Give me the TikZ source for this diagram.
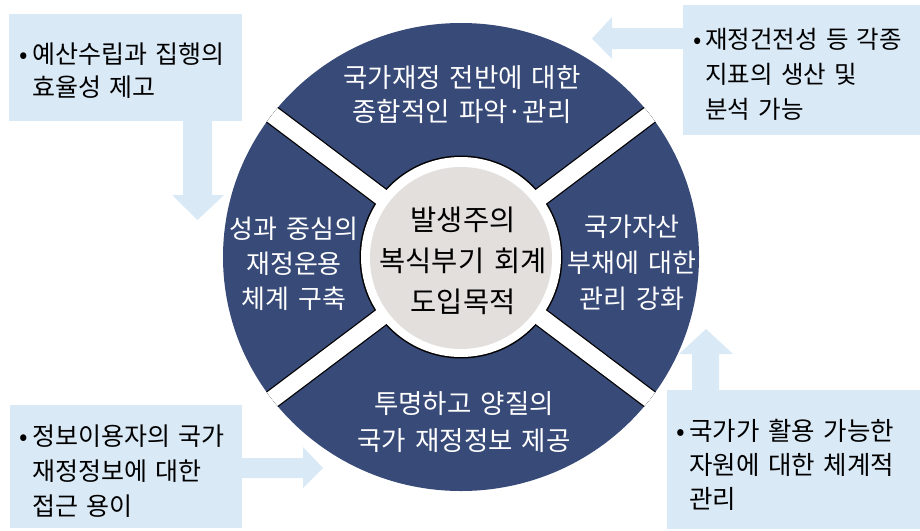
\documentclass[tikz,border=0pt]{standalone}
\usepackage{fontspec}
\setmainfont[WordSpace=1.5]{Noto Sans CJK KR}
\definecolor{navy}{HTML}{384A77}
\definecolor{lblue}{HTML}{DAE9F6}
\definecolor{cgray}{HTML}{E2DFDC}
\newcommand\mybul{\llap{\makebox[16pt][c]{•}}}
\begin{document}
\begin{tikzpicture}[x=1pt,y=-1pt,
  infobox/.style={fill=lblue, draw=none, anchor=north west, inner sep=0pt, outer sep=0pt},
  infotext/.style={anchor=base west, align=left, inner sep=0pt, text=black},
  quadtext/.style={anchor=base, align=center, inner sep=0pt, text=white},
  fatarrow/.style={fill=lblue, draw=none}]
\useasboundingbox (0,0) rectangle (920,530);

% ---- big circle ----
\fill[navy] (461,257) ellipse [x radius=238, y radius=234];
\begin{scope}
  \clip (461,257) ellipse [x radius=238, y radius=234];
  \foreach \a in {37,143,217,323} \draw[black, line width=19.5pt] (461,257) -- ++(\a:260);
  \fill[black] (461,257) circle [radius=101.5];
  \foreach \a in {37,143,217,323} \draw[white, line width=17pt] (461,257) -- ++(\a:260);
  \fill[white] (461,257) circle [radius=100];
\end{scope}
\node[circle, fill=cgray, minimum size=182pt, inner sep=0pt] (core) at (461,258) {};
\node[anchor=base, align=center, inner sep=0pt, font=\fontsize{28.5}{41}\selectfont] (coretext) at (463,312) {발생주의\\복식부기 회계\\도입목적};

% ---- quadrant texts ----
\node[quadtext, font=\fontsize{26.5}{34}\selectfont] (qtop) at (462,121) {국가재정 전반에 대한\\종합적인 파악·관리};
\node[quadtext, font=\fontsize{26}{35}\selectfont] (qleft) at (294,308) {성과 중심의\\재정운용\\체계 구축};
\node[quadtext, font=\fontsize{26}{36}\selectfont] (qright) at (632,308) {국가자산\\부채에 대한\\관리 강화};
\node[quadtext, font=\fontsize{26.5}{37}\selectfont] (qbottom) at (464,450) {투명하고 양질의\\국가 재정정보 제공};

% ---- info boxes ----
\node[infobox, minimum width=233pt, minimum height=107pt] (tlbox) at (9,14) {};
\node[infobox, minimum width=237pt, minimum height=130pt] (trbox) at (683,5) {};
\node[infobox, minimum width=232pt, minimum height=123pt] (blbox) at (10,405) {};
\node[infobox, minimum width=253pt, minimum height=139pt] (brbox) at (667,390) {};

% ---- block arrows ----
\fill[fatarrow] (tlbox.south -| 183,0) -- (183,195) -- (172,195) -- (197.5,220) -- (224,195) -- (212,195) -- (tlbox.south -| 212,0) -- cycle;
\fill[fatarrow] (trbox.west |- 0,28) -- (612,28) -- (612,17) -- (592,38.5) -- (612,59) -- (612,49) -- (trbox.west |- 0,49) -- cycle;
\fill[fatarrow] (blbox.east |- 0,458) -- (303,458) -- (303,447) -- (323,468) -- (303,488) -- (303,478) -- (blbox.east |- 0,478) -- cycle;
\fill[fatarrow] (brbox.north -| 692,0) -- (692,354) -- (679,354) -- (706,329) -- (733,354) -- (719,354) -- (brbox.north -| 719,0) -- cycle;

% ---- info texts ----
\node[infotext, font=\fontsize{25}{33}\selectfont] (tlt) at (32,96) {\mybul 예산수립과 집행의\\효율성 제고};
\node[infotext, font=\fontsize{24.5}{35}\selectfont] (trt) at (705,118) {\mybul 재정건전성 등 각종\\지표의 생산 및\\분석 가능};
\node[infotext, font=\fontsize{25}{35}\selectfont] (blt) at (32,515) {\mybul 정보이용자의 국가\\재정정보에 대한\\접근 용이};
\node[infotext, font=\fontsize{25.5}{34}\selectfont] (brt) at (689,508) {\mybul 국가가 활용 가능한\\자원에 대한 체계적\\관리};
\end{tikzpicture}
\end{document}
